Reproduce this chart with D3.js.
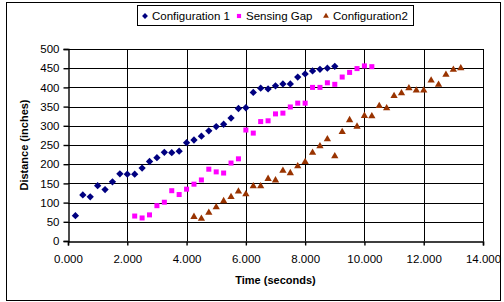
<!DOCTYPE html>
<html>
<head>
<meta charset="utf-8">
<script src="https://cdn.jsdelivr.net/npm/d3@7"></script>
<style>
  body { margin: 0; background: #fff; }
  svg text { font-family: "Liberation Sans", Arial, sans-serif; }
</style>
</head>
<body>
<script>
// series data (time in seconds, distance in inches)
var config1Time = [0.25,0.5,0.75,1.0,1.25,1.5,1.75,2.0,2.25,2.5,2.75,3.0,3.25,3.5,3.75,4.0,4.25,4.5,
                   4.75,5.0,5.25,5.5,5.75,6.0,6.25,6.5,6.75,7.0,7.25,7.5,7.75,8.0,8.25,8.5,8.75,9.0];
var config1Dist = [66,120,115,144,134,154,175,174,174,190,207,217,231,230,234,256,263,273,
                   287,298,304,320,345,347,387,398,396,404,409,409,427,435,443,447,450,455];

var gapTime = [2.25,2.5,2.75,3.0,3.25,3.5,3.75,4.0,4.25,4.5,4.75,5.0,5.25,5.5,5.75,6.0,6.25,
               6.5,6.75,7.0,7.25,7.5,7.75,8.0,8.25,8.5,8.75,9.0,9.25,9.5,9.75,10.0,10.25];
var gapDist = [65,60,68,92,101,131,121,135,148,159,187,180,177,203,214,289,281,
               311,313,331,333,349,359,359,400,400,412,408,427,439,449,456,454];

var config2Time = [4.25,4.5,4.75,5.0,5.25,5.5,5.75,6.0,6.25,6.5,6.75,7.0,7.25,7.5,7.75,8.0,8.25,8.5,8.75,
                   9.0,9.25,9.5,9.75,10.0,10.25,10.5,10.75,11.0,11.25,11.5,11.75,12.0,12.25,12.5,12.75,13.0,13.25];
var config2Dist = [63,58,74,88,104,115,129,122,143,143,162,158,183,177,195,206,230,247,265,
                   221,284,315,298,326,325,352,346,378,385,398,392,392,418,407,433,446,450];

var seriesNames = ["Configuration 1", "Sensing Gap", "Configuration2"];
var xTicks = [0,2,4,6,8,10,12,14];
var yTicks = [0,50,100,150,200,250,300,350,400,450,500];

var width = 504, height = 302;
var svg = d3.select("body").append("svg")
    .attr("width", width)
    .attr("height", height);

// outer chart frame
svg.append("rect")
    .attr("x", 6.5).attr("y", 2.5)
    .attr("width", 494).attr("height", 298)
    .attr("fill", "#fff").attr("stroke", "#000");

var x = d3.scaleLinear().domain([0, 14]).range([68, 483]);
var y = d3.scaleLinear().domain([0, 500]).range([241, 49]);

// grid
svg.append("g").selectAll("line.h")
    .data(yTicks.slice(1))
    .enter().append("line")
    .attr("x1", x(0)).attr("x2", x(14))
    .attr("y1", function(d){ return Math.round(y(d)) + 0.5; })
    .attr("y2", function(d){ return Math.round(y(d)) + 0.5; })
    .attr("stroke", "#000");
svg.append("g").selectAll("line.v")
    .data(xTicks.slice(1))
    .enter().append("line")
    .attr("y1", y(0)).attr("y2", y(500))
    .attr("x1", function(d){ return Math.round(x(d)) + 0.5; })
    .attr("x2", function(d){ return Math.round(x(d)) + 0.5; })
    .attr("stroke", "#000");

// axes
var xAxis = d3.axisBottom(x).tickValues(xTicks)
    .tickFormat(d3.format(".3f")).tickSize(4).tickPadding(9);
var yAxis = d3.axisLeft(y).tickValues(yTicks).tickSize(5).tickPadding(4);

var gx = svg.append("g")
    .attr("transform", "translate(0," + (Math.round(y(0)) + 0.5) + ")")
    .call(xAxis);
var gy = svg.append("g")
    .attr("transform", "translate(" + (Math.round(x(0)) + 0.5) + ",0)")
    .call(yAxis);
[gx, gy].forEach(function(g){
    g.selectAll("path,line").attr("stroke", "#000").attr("stroke-width", 1.4);
    g.selectAll("text").attr("font-size", 11.5).attr("fill", "#000")
        .style("font-family", "'Liberation Sans', Arial, sans-serif");
});

// axis titles
svg.append("text")
    .attr("x", (x(0) + x(14)) / 2).attr("y", 284)
    .attr("text-anchor", "middle")
    .attr("font-size", 11).attr("font-weight", "bold")
    .text("Time (seconds)");
svg.append("text")
    .attr("transform", "translate(28," + ((y(0) + y(500)) / 2) + ") rotate(-90)")
    .attr("text-anchor", "middle")
    .attr("font-size", 11).attr("font-weight", "bold")
    .text("Distance (inches)");

// markers
var diamond = d3.symbol().type(d3.symbolDiamond2).size(34);
var square = d3.symbol().type(d3.symbolSquare2).size(32);
var triangle = d3.symbol().type(d3.symbolTriangle2).size(38);

function drawSeries(times, dists, sym, color){
    svg.append("g").selectAll("path")
        .data(times.map(function(t, i){ return [t, dists[i]]; }))
        .enter().append("path")
        .attr("d", sym)
        .attr("transform", function(d){ return "translate(" + x(d[0]) + "," + y(d[1]) + ")"; })
        .attr("fill", color);
}
drawSeries(config1Time, config1Dist, diamond, "#000080");
drawSeries(gapTime, gapDist, square, "#ff00ff");
drawSeries(config2Time, config2Dist, triangle, "#993300");

// legend
var legend = svg.append("g");
legend.append("rect")
    .attr("x", 137.5).attr("y", 5.5)
    .attr("width", 276).attr("height", 20)
    .attr("fill", "#fff").attr("stroke", "#000");
var legendX = [145, 239, 326];
var legendSyms = [d3.symbol().type(d3.symbolDiamond2).size(22),
                  d3.symbol().type(d3.symbolSquare2).size(22),
                  d3.symbol().type(d3.symbolTriangle2).size(24)];
var legendColors = ["#000080", "#ff00ff", "#993300"];
seriesNames.forEach(function(name, i){
    legend.append("path")
        .attr("d", legendSyms[i])
        .attr("transform", "translate(" + legendX[i] + ",16)")
        .attr("fill", legendColors[i]);
    legend.append("text")
        .attr("x", legendX[i] + 7).attr("y", 20)
        .attr("font-size", 11.5)
        .text(name);
});
</script>
</body>
</html>
